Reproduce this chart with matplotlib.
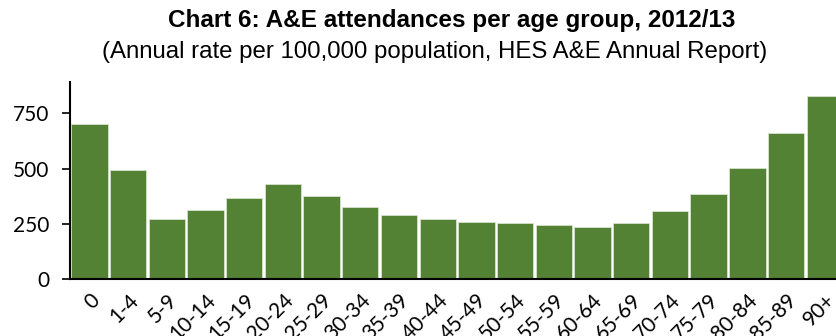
import matplotlib.pyplot as plt

# A&E attendances per 100,000 population by age group
age_groups = ['0', '1-4', '5-9', '10-14', '15-19', '20-24', '25-29', '30-34',
              '35-39', '40-44', '45-49', '50-54', '55-59', '60-64', '65-69',
              '70-74', '75-79', '80-84', '85-89', '90+']
rates = [703, 492, 273, 314, 365, 431, 377, 325, 290, 273, 258, 253, 243,
         234, 252, 306, 385, 504, 660, 828]
yticks = [0, 250, 500, 750]

plt.rcParams['font.family'] = ['Lato', 'DejaVu Sans']

fig = plt.figure(figsize=(8.36, 3.36), dpi=100)
ax = fig.add_axes([70 / 836, 57 / 336, 1 - 70 / 836, 197 / 336])

x = list(range(len(age_groups)))
ax.bar(x, rates, width=0.94, color='#548235', edgecolor='#d5e2cc', linewidth=0.6)

ax.set_xlim(-0.5, 19.29)
ax.set_ylim(0, 892)
ax.set_yticks(yticks)
ax.set_yticklabels([str(v) for v in yticks], fontsize=15)
ax.set_xticks(x)
ax.set_xticklabels(age_groups, fontsize=15, rotation=45, ha='right',
                   rotation_mode='anchor')
ax.tick_params(axis='x', length=0, pad=8)
ax.tick_params(axis='y', length=6, width=1.2, pad=9)

for side in ['top', 'right']:
    ax.spines[side].set_visible(False)
for side in ['left', 'bottom']:
    ax.spines[side].set_linewidth(1.5)
    ax.spines[side].set_color('black')

fig.text(452 / 836, 1 - 20 / 336, 'Chart 6: A&E attendances per age group, 2012/13',
         ha='center', va='center', fontsize=17.5, fontweight='bold',
         family='Liberation Sans')
fig.text(435 / 836, 1 - 52 / 336, '(Annual rate per 100,000 population, HES A&E Annual Report)',
         ha='center', va='center', fontsize=17.3, family='Liberation Sans')

fig.savefig('out.png', dpi=100)
